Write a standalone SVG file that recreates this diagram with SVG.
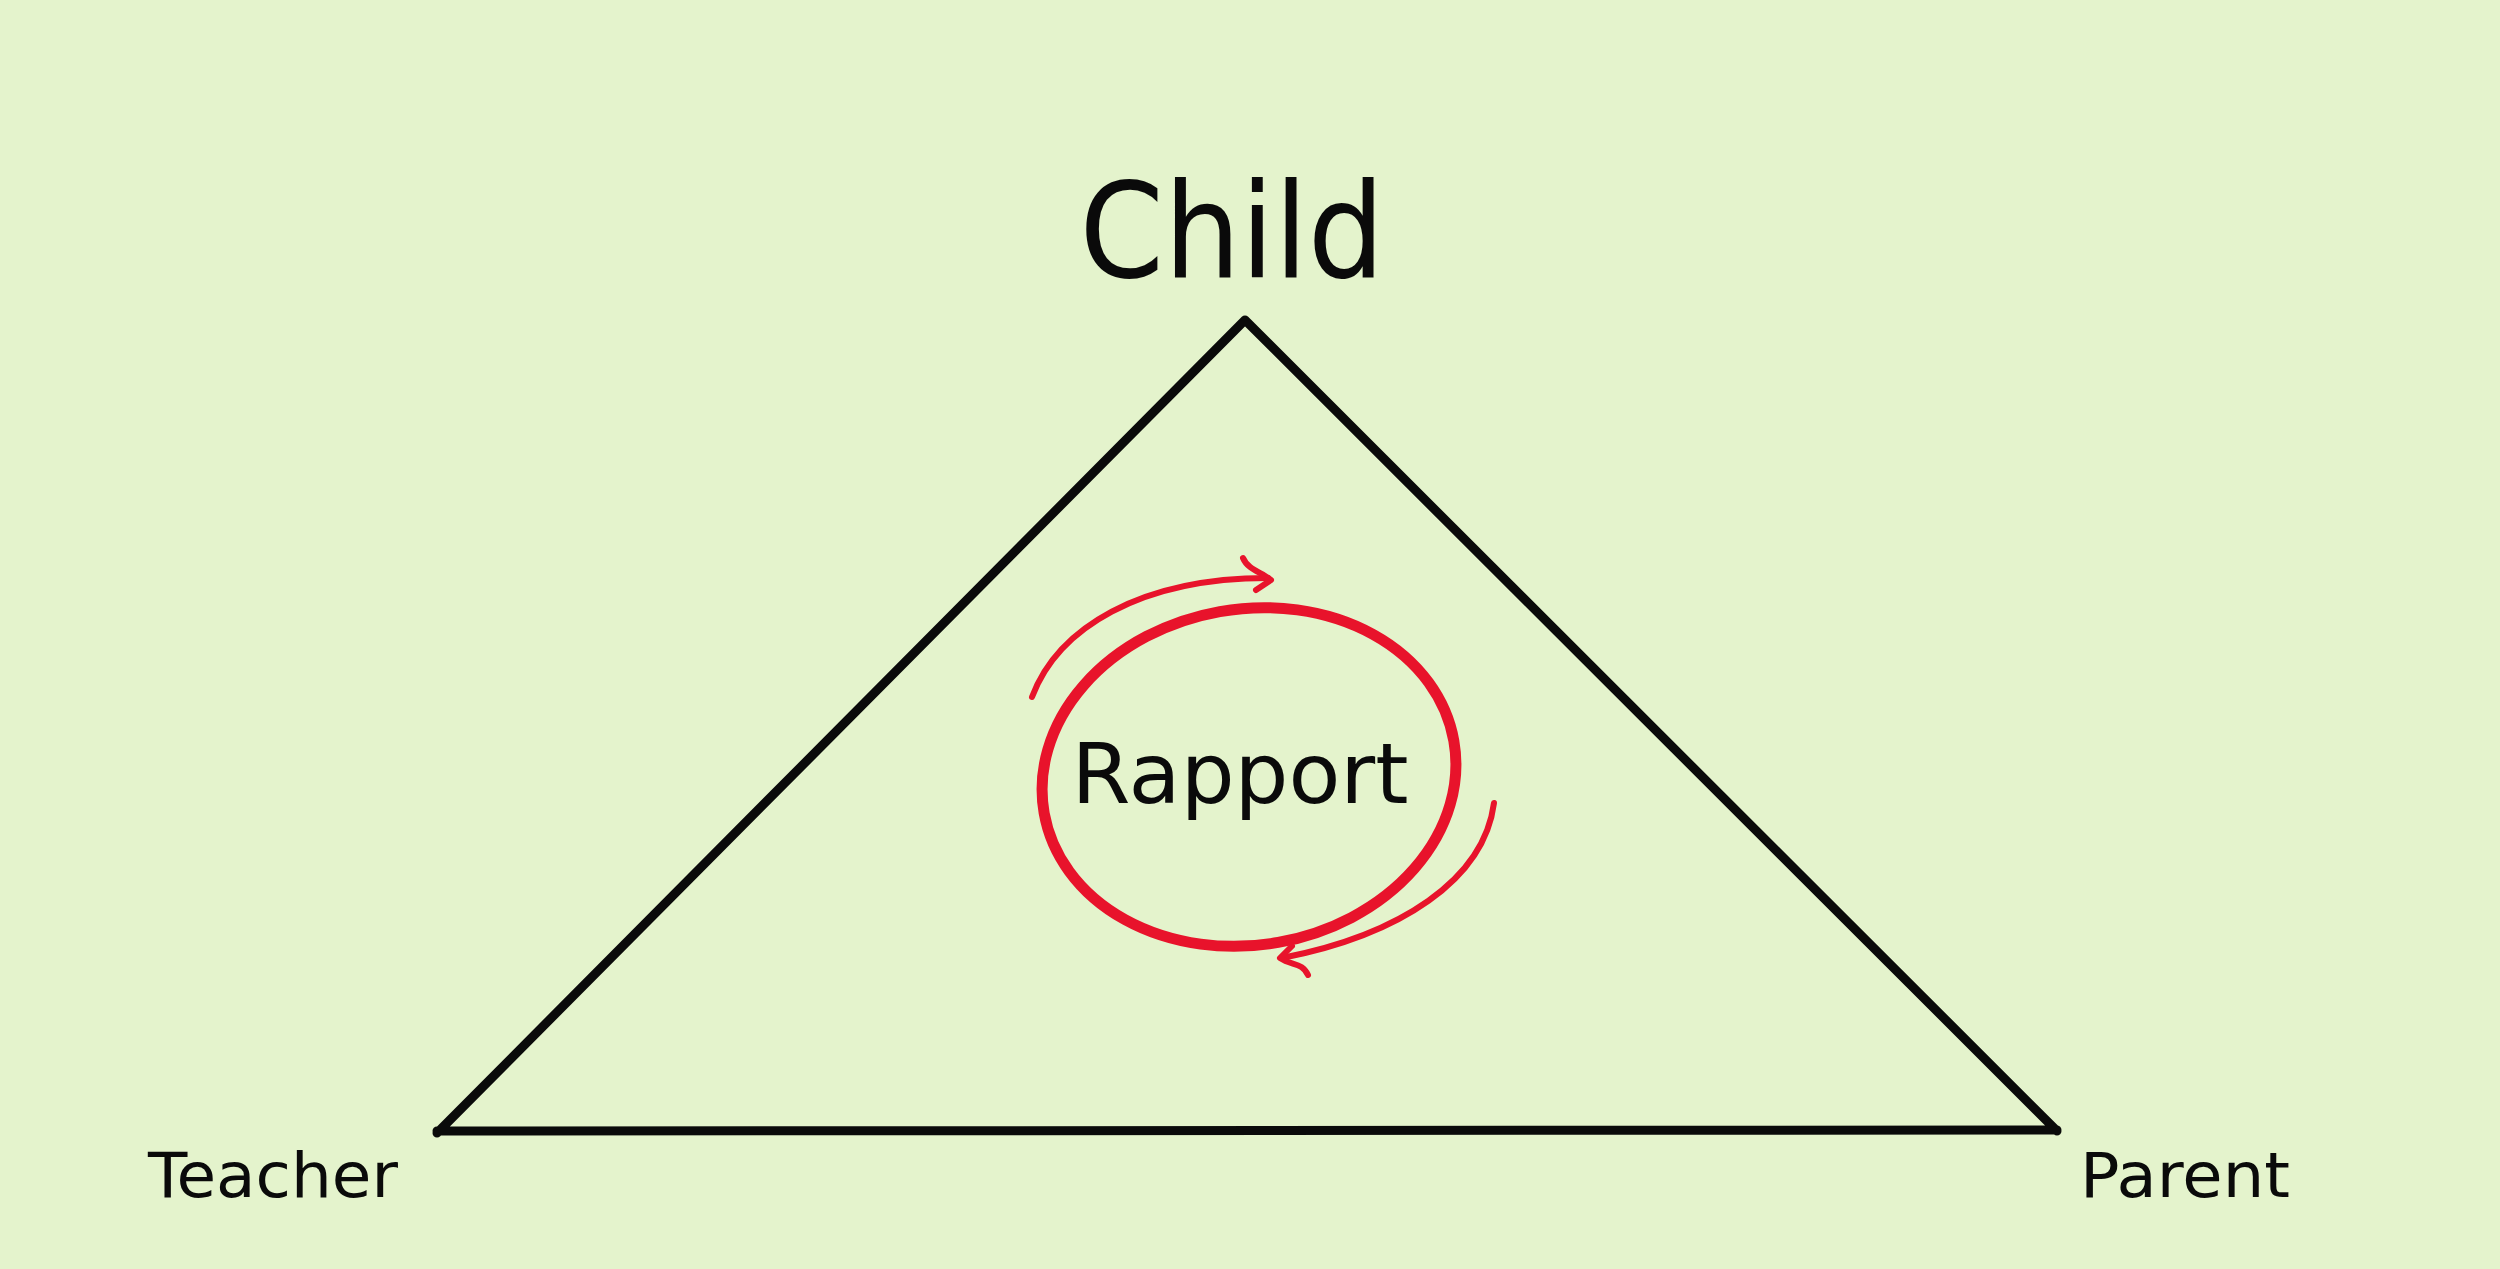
<svg xmlns="http://www.w3.org/2000/svg" width="2500" height="1269" viewBox="0 0 2500 1269">
<style>
.bg{fill:#E4F3CC}
.edge{fill:none;stroke:#0a0a0a;stroke-width:9;stroke-linecap:round;stroke-linejoin:round}
.red{fill:none;stroke:#E8132B;stroke-linecap:round;stroke-linejoin:round}
.lbl{font-family:"DejaVu Sans","Liberation Sans",sans-serif;fill:#0a0a0a;text-anchor:middle}
</style>
<rect class="bg" x="0" y="0" width="2500" height="1269"/>
<g id="connectors">
<path class="edge" d="M1245,320 L437,1133 M1245,320 L2057,1131 M437,1131 L2057,1130"/>
</g>
<g id="child"><text class="lbl" x="1232" y="277" font-size="132" textLength="305" lengthAdjust="spacingAndGlyphs">Child</text></g>
<g id="teacher"><text class="lbl" x="273" y="1197" font-size="62" textLength="250" lengthAdjust="spacingAndGlyphs">Teacher</text></g>
<g id="parent"><text class="lbl" x="2185" y="1197" font-size="62" textLength="210" lengthAdjust="spacingAndGlyphs">Parent</text></g>
<g id="rapport">
<ellipse class="red" stroke-width="11" cx="1249" cy="777" rx="208" ry="168" transform="rotate(-10 1249 777)"/>
<text class="lbl" x="1240" y="803" font-size="84" textLength="337" lengthAdjust="spacingAndGlyphs">Rapport</text>
</g>
<g id="cycle-arrows">
<path class="red" stroke-width="6" d="M1032,697 C1058,628 1140,578 1268,578"/>
<path class="red" stroke-width="6" d="M1243,558 C1248,570 1262,572 1271,580 L1256,590"/>
<path class="red" stroke-width="6" d="M1494,803 C1484,880 1400,935 1282,958"/>
<path class="red" stroke-width="6" d="M1292,946 L1280,958 C1292,966 1302,962 1308,975"/>
</g>
</svg>
